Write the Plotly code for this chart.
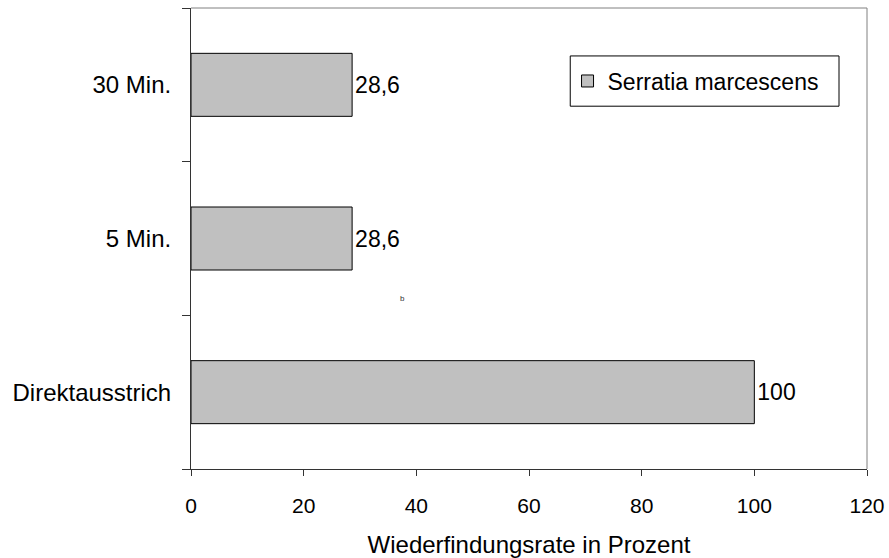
import plotly.graph_objects as go

# Recovery rates per sampling time (bottom to top)
categories = ["Direktausstrich", "5 Min.", "30 Min."]
values = [100, 28.6, 28.6]
series_name = "Serratia marcescens"
x_ticks = [0, 20, 40, 60, 80, 100, 120]

font_family = "Liberation Sans, Arial, sans-serif"

fig = go.Figure()
fig.add_trace(go.Bar(
    y=categories,
    x=values,
    orientation="h",
    name=series_name,
    width=0.41,
    marker=dict(color="#c0c0c0", line=dict(color="#000000", width=1)),
    texttemplate="%{x:.3~g}",
    textposition="outside",
    textfont=dict(size=23, color="#000000", family=font_family),
    cliponaxis=False,
))

fig.update_layout(
    width=889,
    height=558,
    margin=dict(l=191, r=22, t=8, b=89),
    paper_bgcolor="white",
    plot_bgcolor="white",
    separators=",.",
    font=dict(family=font_family, size=23, color="#000000"),
    showlegend=True,
    legend=dict(
        x=0.557, y=0.8416, xanchor="left", yanchor="middle",
        bgcolor="rgba(0,0,0,0)", borderwidth=0,
        font=dict(size=23, family=font_family),
        itemwidth=30,
    ),
    xaxis=dict(
        range=[0, 120],
        tickvals=x_ticks,
        ticks="outside",
        ticklen=6,
        tickcolor="#333333",
        showline=True,
        linecolor="#333333",
        linewidth=1,
        showgrid=False,
        zeroline=False,
        automargin=False,
        ticklabelstandoff=12,
        tickfont=dict(size=21),
        title=dict(text="Wiederfindungsrate in Prozent", standoff=20,
                   font=dict(size=24)),
    ),
    yaxis=dict(
        type="category",
        categoryorder="array",
        categoryarray=categories,
        range=[-0.5, 2.5],
        tickson="boundaries",
        ticks="outside",
        ticklen=8,
        tickcolor="#333333",
        showline=True,
        linecolor="#333333",
        linewidth=1,
        showgrid=False,
        automargin=False,
        ticklabelstandoff=14,
        tickfont=dict(size=24),
    ),
    shapes=[
        # top and right frame lines
        dict(type="line", xref="paper", yref="paper", x0=0, x1=1, y0=1, y1=1,
             line=dict(color="#808080", width=1)),
        dict(type="line", xref="paper", yref="paper", x0=1, x1=1, y0=0, y1=1,
             line=dict(color="#808080", width=1)),
        # legend frame
        dict(type="rect", xref="paper", yref="paper",
             x0=0.561, x1=0.9586, y0=0.787, y1=0.896,
             line=dict(color="#000000", width=1), fillcolor="rgba(0,0,0,0)"),
    ],
    annotations=[
        dict(text="b", x=0.306, y=0.369, xref="paper", yref="paper",
             showarrow=False, font=dict(size=8, color="#333333",
                                        family=font_family)),
    ],
)

fig.write_html("out.html")
